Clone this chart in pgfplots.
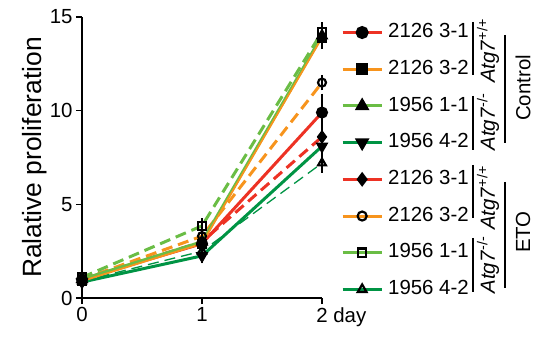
\documentclass[border=0pt]{standalone}
\usepackage{pgfplots}
\pgfplotsset{compat=1.18}
\usepackage{fontspec}
\setmainfont{Liberation Sans}
\definecolor{cred}{RGB}{237,50,36}
\definecolor{corange}{RGB}{247,148,29}
\definecolor{clgreen}{RGB}{106,189,69}
\definecolor{cdgreen}{RGB}{0,148,68}
\pgfplotsset{
  eb/.style={error bars/.cd, y dir=both, y explicit,
    error bar style={black,line width=1.5bp,solid},
    error mark options={black,line width=1.5bp,mark size=4bp,solid}},
  dsh/.style={dash pattern=on 11bp off 6bp},
}
\begin{document}
\begin{tikzpicture}
\path[use as bounding box] (-82bp,-39bp) rectangle (454bp,298bp);
\begin{axis}[
  scale only axis, width=240bp, height=281bp,
  xmin=0, xmax=2, ymin=0, ymax=15,
  axis lines=left, axis line style={line width=1.6bp,-},
  xtick={0,1,2}, xticklabels={0,1,{2\rlap{ day}}},
  ytick={0,5,10,15},
  tick style={line width=1.6bp,black}, tick align=outside, major tick length=6bp,
  tick label style={font=\fontsize{20.5}{24}\selectfont},
  /pgf/number format/assume math mode=true,
  ylabel={Ralative proliferation},
  ylabel style={font=\fontsize{26.5}{30}\selectfont, yshift=-4bp},
  clip=false,
  legend style={at={(axis description cs:1.079,0.978)}, anchor=north west,
    draw=none, fill=none, inner sep=0pt, row sep=18.4bp, column sep=5bp,
    font=\fontsize{20.5}{24}\selectfont,
    nodes={inner sep=0pt, text height=14.3bp, text depth=4bp}},
  legend cell align=left,
  legend image code/.code={\draw[#1,mark repeat=2,mark phase=2] plot coordinates {(0bp,0bp) (19.5bp,0bp) (39bp,0bp)};},
]
% legend images
\addlegendimage{cred, line width=3bp, mark=*, mark options={black,fill=black,mark size=5bp}}
\addlegendentry{2126 3-1}
\addlegendimage{corange, line width=3bp, mark=square*, mark options={black,fill=black,mark size=4.5bp}}
\addlegendentry{2126 3-2}
\addlegendimage{clgreen, line width=3bp, mark=triangle*, mark options={black,fill=black,mark size=5.5bp}}
\addlegendentry{1956 1-1}
\addlegendimage{cdgreen, line width=3bp, mark=triangle*, mark options={black,fill=black,mark size=5.5bp,rotate=180}}
\addlegendentry{1956 4-2}
\addlegendimage{cred, line width=3bp, mark=diamond*, mark options={black,fill=black,mark size=5bp}}
\addlegendentry{2126 3-1}
\addlegendimage{corange, line width=3bp, mark=o, mark options={black,fill=white,line width=2.2bp,mark size=4.5bp}}
\addlegendentry{2126 3-2}
\addlegendimage{clgreen, line width=3bp, mark=square, mark options={black,fill=white,line width=2.2bp,mark size=4.2bp}}
\addlegendentry{1956 1-1}
\addlegendimage{cdgreen, line width=3bp, mark=triangle, mark options={black,fill=white,line width=2.2bp,mark size=5bp}}
\addlegendentry{1956 4-2}
% ETO (dashed)
\addplot[forget plot, cdgreen, line width=1.3bp, dsh, mark=triangle, mark options={black,fill=white,solid,line width=2.2bp,mark size=4.5bp}, eb]
  coordinates {(0,0.9)+-(0,0.1) (1,2.5)+-(0,0.15) (2,7.2)+-(0,0.3)};
\addplot[forget plot, cred, line width=3bp, dsh, mark=diamond*, mark options={black,fill=black,solid,mark size=4.5bp}, eb]
  coordinates {(0,1.0)+-(0,0.1) (1,3.0)+-(0,0.15) (2,8.6)+-(0,0.3)};
\addplot[forget plot, corange, line width=3bp, dsh, mark=o, mark options={black,fill=white,solid,line width=2.2bp,mark size=4bp}, eb]
  coordinates {(0,1.0)+-(0,0.1) (1,3.3)+-(0,0.15) (2,11.5)+-(0,0.2)};
\addplot[forget plot, clgreen, line width=3bp, dsh, mark=square, mark options={black,fill=white,solid,line width=2.2bp,mark size=4bp}, eb]
  coordinates {(0,1.1)+-(0,0.1) (1,3.85)+-(0,0.2) (2,14.2)+-(0,0.3)};
% Control (solid)
\addplot[forget plot, cdgreen, line width=3bp, mark=triangle*, mark options={black,fill=black,rotate=180,mark size=4.5bp}, eb]
  coordinates {(0,0.85)+-(0,0.1) (1,2.25)+-(0,0.15) (2,8.1)+-(0,0.3)};
\addplot[forget plot, cred, line width=3bp, mark=*, mark options={black,fill=black,mark size=4.5bp}, eb]
  coordinates {(0,1.0)+-(0,0.1) (1,2.9)+-(0,0.2) (2,9.9)+-(0,0.8)};
\addplot[forget plot, clgreen, line width=3bp, mark=triangle*, mark options={black,fill=black,mark size=4.5bp}, eb]
  coordinates {(0,1.0)+-(0,0.1) (1,3.0)+-(0,0.15) (2,14.0)+-(0,0.3)};
\addplot[forget plot, corange, line width=1.8bp, mark=square*, mark options={black,fill=black,mark size=4bp}, eb]
  coordinates {(0,0.9)+-(0,0.1) (1,2.9)+-(0,0.15) (2,13.9)+-(0,0.4)};
\end{axis}
\begin{scope}[line width=1.5bp]
  % Control
  \draw (391bp,276bp) -- (391bp,223bp);
  \draw (391bp,202bp) -- (391bp,148bp);
  \draw (423bp,263bp) -- (423bp,155bp);
  % ETO
  \draw (391bp,133bp) -- (391bp,80bp);
  \draw (391bp,60bp) -- (391bp,6bp);
  \draw (423bp,116bp) -- (423bp,10bp);
\end{scope}
\begin{scope}[every node/.style={rotate=90, inner sep=0pt, font=\fontsize{20.5}{24}\selectfont}]
  \node at (406bp,247bp) {\textit{Atg7}\textsuperscript{+/+}};
  \node at (406bp,176bp) {\textit{Atg7}\textsuperscript{-/-}};
  \node at (441bp,210bp) {Control};
  \node at (406bp,100bp) {\textit{Atg7}\textsuperscript{+/+}};
  \node at (406bp,33bp) {\textit{Atg7}\textsuperscript{-/-}};
  \node at (441bp,66bp) {ETO};
\end{scope}
\end{tikzpicture}
\end{document}
